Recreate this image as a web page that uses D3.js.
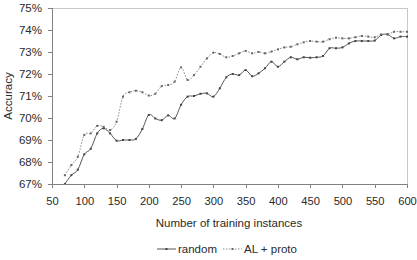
<!DOCTYPE html>
<html><head><meta charset="utf-8">
<script src="https://cdn.jsdelivr.net/npm/d3@7"></script>
<style>body{margin:0;background:#fff}svg{display:block}text{font-family:"Liberation Sans",Arial,sans-serif;fill:#2a2a2a}</style>
</head><body><svg id="c" width="417" height="260"></svg>
<script>
const xValues = [70,80,90,100,110,120,130,140,150,160,170,180,190,200,210,220,230,240,250,260,270,280,290,300,310,320,330,340,350,360,370,380,390,400,410,420,430,440,450,460,470,480,490,500,510,520,530,540,550,560,570,580,590,600];
const randomAcc = [67.0,67.4,67.65,68.35,68.6,69.3,69.53,69.3,68.97,69.0,69.0,69.05,69.5,70.14,69.98,69.9,70.12,69.98,70.6,70.97,71.0,71.1,71.12,70.97,71.35,71.85,72.0,71.95,72.18,71.9,72.03,72.26,72.56,72.33,72.56,72.76,72.67,72.76,72.74,72.76,72.82,73.17,73.17,73.21,73.39,73.5,73.5,73.5,73.52,73.77,73.8,73.62,73.7,73.7];
const alProtoAcc = [67.4,67.86,68.24,69.23,69.3,69.64,69.6,69.45,69.83,70.97,71.17,71.24,71.17,71.02,71.1,71.45,71.5,71.65,72.3,71.73,71.95,72.33,72.71,72.97,72.91,72.76,72.82,72.94,73.05,72.94,73.0,72.94,73.02,73.12,73.21,73.24,73.35,73.44,73.5,73.47,73.47,73.58,73.65,73.62,73.62,73.67,73.73,73.7,73.67,73.8,73.8,73.92,73.92,73.92];
const xTicks = [50,100,150,200,250,300,350,400,450,500,550,600];
const yTicks = [67,68,69,70,71,72,73,74,75];
const seriesNames = ["random","AL + proto"];

const svg = d3.select("#c");
const L=52, R=407, T=8, B=184;
const x = d3.scaleLinear().domain([50,600]).range([L,R]);
const y = d3.scaleLinear().domain([67,75]).range([B,T]);

// frame
svg.append("rect").attr("x",L).attr("y",T).attr("width",R-L).attr("height",B-T)
  .attr("fill","none").attr("stroke","#c8c8c8").attr("stroke-width",1).attr("shape-rendering","crispEdges");

const yAxis = svg.append("g").attr("transform",`translate(${L},0)`)
  .call(d3.axisLeft(y).tickValues(yTicks).tickFormat(d=>d+"%").tickSize(4).tickPadding(6));
const xAxis = svg.append("g").attr("transform",`translate(0,${B})`)
  .call(d3.axisBottom(x).tickValues(xTicks).tickSize(4).tickPadding(9));
[yAxis,xAxis].forEach(g=>{
  g.selectAll("path,line").attr("stroke","#808080").attr("shape-rendering","crispEdges");
  g.selectAll("text").style("fill","#2a2a2a");
});
yAxis.selectAll("text").attr("font-size",11.5);
xAxis.selectAll("text").attr("font-size",11.2);

svg.append("text").attr("transform",`translate(12,${(T+B)/2}) rotate(-90)`)
  .attr("text-anchor","middle").attr("font-size",11.5).text("Accuracy");
svg.append("text").attr("x",229).attr("y",227).attr("text-anchor","middle")
  .attr("font-size",11.5).text("Number of training instances");

const curve = d3.curveCatmullRom.alpha(0);
const mk = arr => xValues.map((v,i)=>[v,arr[i]]);
const line = d3.line().x(d=>x(d[0])).y(d=>y(d[1])).curve(curve);

const series = [
  {name:seriesNames[0], data:mk(randomAcc), stroke:"#555", dash:null, mark:"#444"},
  {name:seriesNames[1], data:mk(alProtoAcc), stroke:"#8a8a8a", dash:"1.5,1.5", mark:"#666"}
];
svg.append("clipPath").attr("id","pc").append("rect").attr("x",L).attr("y",T-3).attr("width",R-L+3).attr("height",B-T+3);
series.forEach(s=>{
  const g = svg.append("g").attr("clip-path","url(#pc)");
  g.append("path").attr("d",line(s.data)).attr("fill","none").attr("stroke",s.stroke)
    .attr("stroke-width",1).attr("stroke-dasharray",s.dash);
  g.selectAll("rect.m").data(s.data).enter().append("rect")
    .attr("x",d=>x(d[0])-1).attr("y",d=>y(d[1])-1).attr("width",2).attr("height",2).attr("fill",s.mark);
});

// legend
const lg = svg.append("g");
lg.append("line").attr("x1",157).attr("x2",176).attr("y1",249).attr("y2",249).attr("stroke","#555");
lg.append("rect").attr("x",165.5).attr("y",248).attr("width",2).attr("height",2).attr("fill","#444");
lg.append("text").attr("x",178).attr("y",253).attr("font-size",11.5).text(seriesNames[0]);
lg.append("line").attr("x1",223).attr("x2",242).attr("y1",249).attr("y2",249).attr("stroke","#8a8a8a").attr("stroke-dasharray","1.5,1.5");
lg.append("rect").attr("x",231.5).attr("y",248).attr("width",2).attr("height",2).attr("fill","#666");
lg.append("text").attr("x",244).attr("y",253).attr("font-size",11.5).text(seriesNames[1]);
</script></body></html>
